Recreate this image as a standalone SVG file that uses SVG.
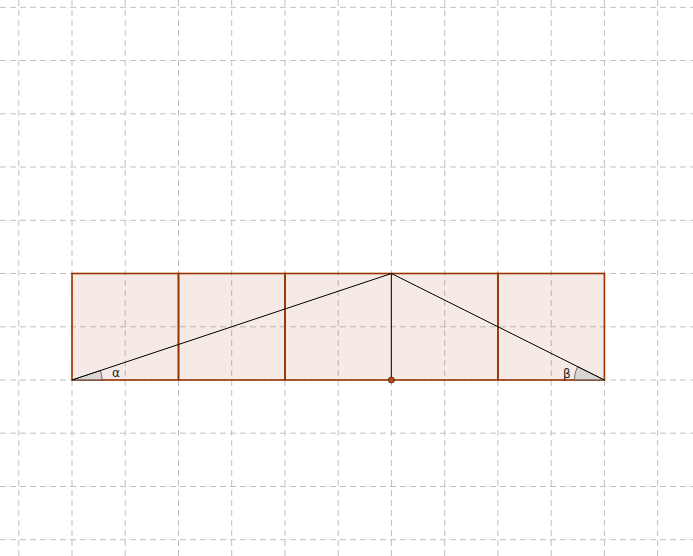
<svg xmlns="http://www.w3.org/2000/svg" width="693" height="556" viewBox="0 0 693 556">
<style>
.grid line{stroke:#c0c0c0;stroke-width:1;stroke-dasharray:6,4}
.sq{fill:#993300;fill-opacity:0.1;stroke:#993300;stroke-width:1.6}
.seg{stroke:#000;stroke-width:1;fill:none}
.ang{fill:#c8c8c8;fill-opacity:0.6;stroke:#555;stroke-width:0.8}
.lbl{font-family:"DejaVu Sans",sans-serif;font-size:12px;fill:#222}
</style>
<rect width="693" height="556" fill="#fff"/>
<g class="grid" id="grid">
<line x1="18.8" y1="0" x2="18.8" y2="556"/>
<line x1="72" y1="0" x2="72" y2="556"/>
<line x1="125.2" y1="0" x2="125.2" y2="556"/>
<line x1="178.5" y1="0" x2="178.5" y2="556"/>
<line x1="231.7" y1="0" x2="231.7" y2="556"/>
<line x1="285" y1="0" x2="285" y2="556"/>
<line x1="338.2" y1="0" x2="338.2" y2="556"/>
<line x1="391.4" y1="0" x2="391.4" y2="556"/>
<line x1="444.7" y1="0" x2="444.7" y2="556"/>
<line x1="497.9" y1="0" x2="497.9" y2="556"/>
<line x1="551.2" y1="0" x2="551.2" y2="556"/>
<line x1="604.4" y1="0" x2="604.4" y2="556"/>
<line x1="657.6" y1="0" x2="657.6" y2="556"/>
<line x1="0" y1="7.3" x2="693" y2="7.3"/>
<line x1="0" y1="60.5" x2="693" y2="60.5"/>
<line x1="0" y1="113.8" x2="693" y2="113.8"/>
<line x1="0" y1="167" x2="693" y2="167"/>
<line x1="0" y1="220.3" x2="693" y2="220.3"/>
<line x1="0" y1="273.5" x2="693" y2="273.5"/>
<line x1="0" y1="326.8" x2="693" y2="326.8"/>
<line x1="0" y1="380" x2="693" y2="380"/>
<line x1="0" y1="433.2" x2="693" y2="433.2"/>
<line x1="0" y1="486.5" x2="693" y2="486.5"/>
<line x1="0" y1="539.7" x2="693" y2="539.7"/>
</g>
<g id="square1"><rect class="sq" x="72" y="273.5" width="106.5" height="106.5"/></g>
<g id="square2"><rect class="sq" x="178.5" y="273.5" width="106.5" height="106.5"/></g>
<g id="rect3"><rect class="sq" x="285" y="273.5" width="212.9" height="106.5"/></g>
<g id="square5"><rect class="sq" x="497.9" y="273.5" width="106.5" height="106.5"/></g>
<g id="angle-alpha">
<path class="ang" d="M72,380 L102,380 A30,30 0 0 0 100.5,370.5 Z"/>
<text class="lbl" x="112" y="377">α</text>
</g>
<g id="angle-beta">
<path class="ang" d="M604.4,380 L574.4,380 A30,30 0 0 1 577.5,366.7 Z"/>
<text class="lbl" x="563" y="378">β</text>
</g>
<g id="connectors">
<line class="seg" x1="72" y1="380" x2="391.4" y2="273.5"/>
<line class="seg" x1="391.4" y1="273.5" x2="604.4" y2="380"/>
<line x1="391.4" y1="273.5" x2="391.4" y2="380" stroke="#4d1a00" stroke-width="1.2"/>
</g>
<g id="foot"><circle cx="391.4" cy="380" r="3" fill="#c04a10" stroke="#4d1a00" stroke-width="0.8"/></g>
</svg>
